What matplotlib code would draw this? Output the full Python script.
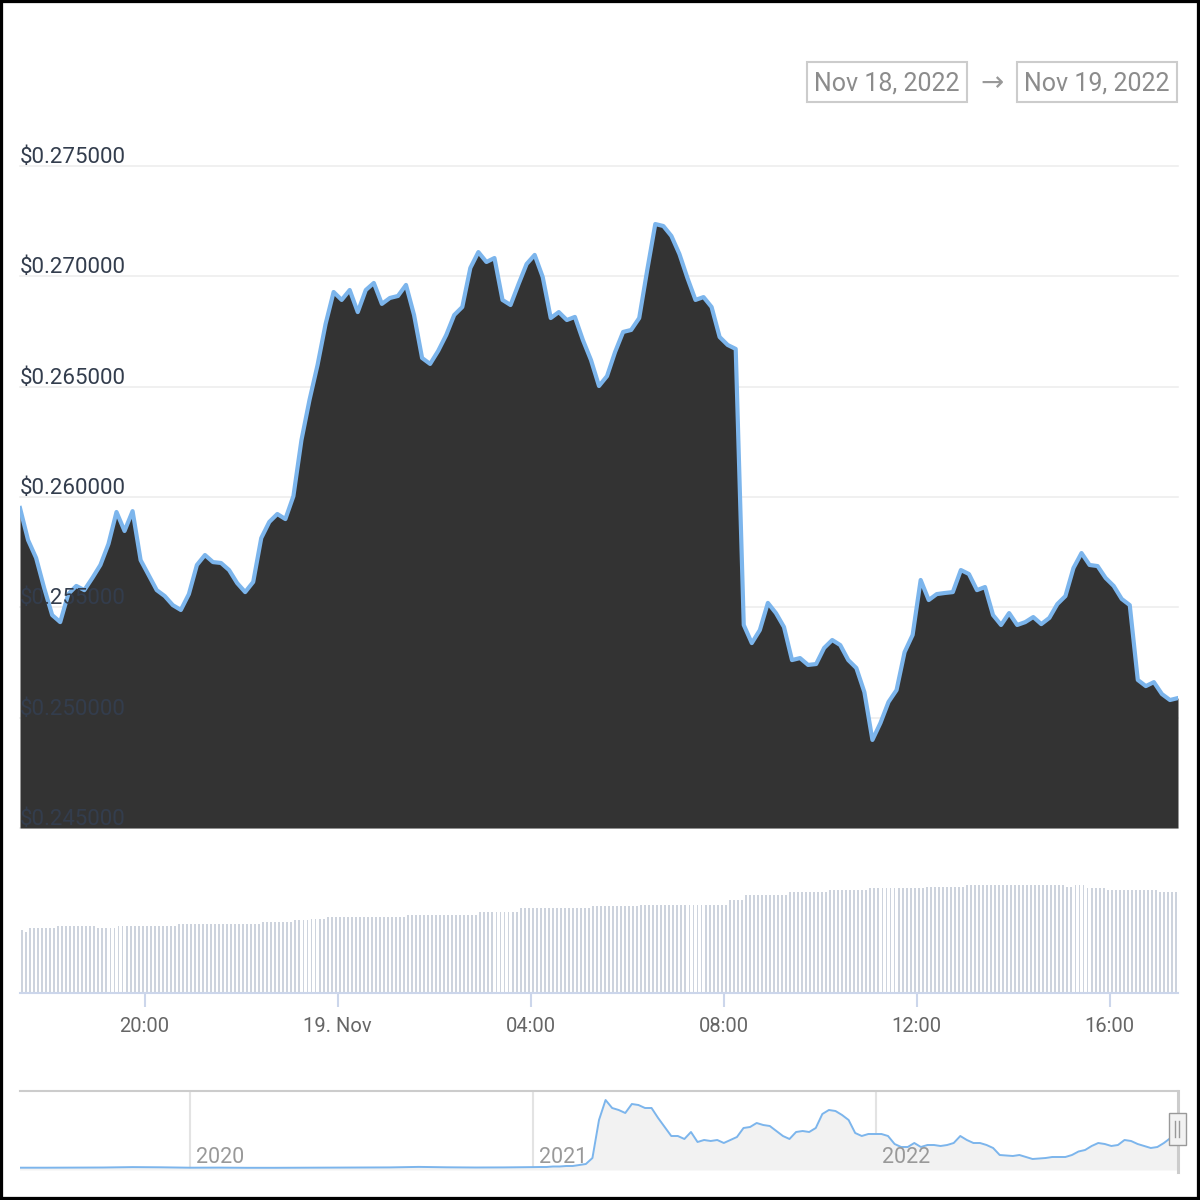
import numpy as np
import pandas as pd
import matplotlib
matplotlib.use('Agg')
import matplotlib.pyplot as plt
from matplotlib.patches import Rectangle

plt.rcParams['font.family'] = ['Roboto', 'DejaVu Sans']

# price, 10 minute steps from Nov 18 17:25
price = [0.25950, 0.25805, 0.25724, 0.25588, 0.25465, 0.25433, 0.25560, 0.25597, 0.25578, 0.25633,
         0.25692, 0.25787, 0.25932, 0.25846, 0.25936, 0.25714, 0.25646, 0.25578, 0.25551, 0.25510,
         0.25488, 0.25560, 0.25692, 0.25737, 0.25705, 0.25701, 0.25669, 0.25610, 0.25569, 0.25615,
         0.25814, 0.25887, 0.25923, 0.25900, 0.26004, 0.26258, 0.26440, 0.26598, 0.26784, 0.26929,
         0.26893, 0.26938, 0.26838, 0.26938, 0.26970, 0.26875, 0.26902, 0.26911, 0.26961, 0.26825,
         0.26630, 0.26603, 0.26662, 0.26734, 0.26825, 0.26861, 0.27038, 0.27110, 0.27065, 0.27083,
         0.26893, 0.26870, 0.26965, 0.27056, 0.27097, 0.26997, 0.26811, 0.26838, 0.26802, 0.26816,
         0.26711, 0.26621, 0.26503, 0.26548, 0.26657, 0.26748, 0.26757, 0.26811, 0.27029, 0.27237,
         0.27228, 0.27183, 0.27101, 0.26992, 0.26893, 0.26906, 0.26861, 0.26725, 0.26689, 0.26671,
         0.25420, 0.25338, 0.25397, 0.25520, 0.25474, 0.25411, 0.25261, 0.25270, 0.25239, 0.25243,
         0.25316, 0.25352, 0.25329, 0.25261, 0.25225, 0.25116, 0.24899, 0.24976, 0.25071, 0.25125,
         0.25297, 0.25375, 0.25624, 0.25533, 0.25560, 0.25565, 0.25569, 0.25669, 0.25651, 0.25578,
         0.25592, 0.25465, 0.25420, 0.25474, 0.25420, 0.25433, 0.25456, 0.25424, 0.25452, 0.25515,
         0.25551, 0.25678, 0.25746, 0.25692, 0.25687, 0.25633, 0.25597, 0.25538, 0.25510, 0.25171,
         0.25143, 0.25161, 0.25107, 0.25080, 0.25089]
price_ticks = [0.245, 0.250, 0.255, 0.260, 0.265, 0.270, 0.275]

# volume bars (5 min), given as plateaus: level and how many bars
vol_levels = [63, 61, 65, 67, 65, 67, 69, 71, 73, 74, 76, 78, 81, 85, 87, 88, 93, 98, 101, 103,
              105, 106, 108, 106, 108, 105, 103, 101]
vol_counts = [1, 1, 7, 10, 5, 15, 21, 8, 4, 4, 20, 18, 10, 18, 12, 22, 4, 11, 10, 10,
              14, 10, 25, 2, 3, 5, 13, 5]

tick_times = ['2022-11-18 20:00', '2022-11-19 00:00', '2022-11-19 04:00',
              '2022-11-19 08:00', '2022-11-19 12:00', '2022-11-19 16:00']
tick_labels = ['20:00', '19. Nov', '04:00', '08:00', '12:00', '16:00']

# navigator: monthly until 2021, weekly after
nav_a = [0.008, 0.008, 0.009, 0.010, 0.014, 0.012, 0.008, 0.009, 0.007, 0.007,
         0.008, 0.009, 0.010, 0.011, 0.016, 0.012, 0.010, 0.011, 0.014]
nav_b = [0.015, 0.015, 0.020, 0.020, 0.025, 0.025, 0.035, 0.045, 0.105, 0.485,
         0.685, 0.605, 0.585, 0.555, 0.645, 0.635, 0.605, 0.605, 0.505, 0.415,
         0.325, 0.325, 0.295, 0.365, 0.265, 0.285, 0.275, 0.285, 0.255, 0.285,
         0.315, 0.405, 0.415, 0.455, 0.435, 0.425, 0.375, 0.325, 0.295, 0.365,
         0.375, 0.365, 0.405, 0.545, 0.585, 0.575, 0.535, 0.485, 0.355, 0.325,
         0.345, 0.345, 0.345, 0.325, 0.245, 0.215, 0.215, 0.255, 0.215, 0.235,
         0.235, 0.225, 0.235, 0.255, 0.325, 0.285, 0.255, 0.255, 0.235, 0.205,
         0.135, 0.130, 0.125, 0.135, 0.115, 0.095, 0.100, 0.105, 0.115, 0.115,
         0.115, 0.135, 0.170, 0.185, 0.225, 0.255, 0.245, 0.225, 0.235, 0.285,
         0.275, 0.245, 0.225, 0.205, 0.215, 0.255, 0.305, 0.270]
nav_years = ['2020', '2021', '2022']

W = 1200.0
def fy(px):
    return 1 - px / W

fig = plt.figure(figsize=(12, 12), dpi=100)

# main price panel
times = pd.date_range('2022-11-18 17:25', periods=len(price), freq='10min')
ax = fig.add_axes([20 / W, fy(828), 1158 / W, (828 - 166) / W])
for v in price_ticks:
    ax.axhline(v, color='#eeeeee', lw=1.2, zorder=1, clip_on=False)
ax.fill_between(times, price, 0.245, color='#333333', lw=0, zorder=2)
ax.plot(times, price, color='#7cb5ec', lw=3.0, zorder=3, solid_joinstyle='round')
for v in price_ticks:
    ax.annotate('$%.6f' % v, xy=(0, v), xycoords=('axes fraction', 'data'),
                xytext=(0, 3), textcoords='offset pixels', ha='left', va='baseline',
                fontsize=16, color='#333d4d', zorder=4, annotation_clip=False)
ax.set_xlim(times[0], times[-1])
ax.set_ylim(0.245, 0.275)
ax.axis('off')

# volume panel
volume = np.repeat(vol_levels, vol_counts)
vol_times = pd.date_range('2022-11-18 17:27:30', periods=len(volume), freq='5min')
vax = fig.add_axes([20 / W, fy(993), 1158 / W, 123 / W])
vax.bar(vol_times, volume, width=2.4 / 1440, color='#cdd3dd', lw=0)
vax.set_xlim(times[0], times[-1])
vax.set_ylim(0, 123)
for s in ['top', 'left', 'right']:
    vax.spines[s].set_visible(False)
vax.spines['bottom'].set_color('#ccd6eb')
vax.spines['bottom'].set_linewidth(1.5)
vax.set_yticks([])
vax.set_xticks(pd.to_datetime(tick_times))
vax.set_xticklabels(tick_labels)
vax.tick_params(axis='x', length=10, width=1.5, color='#ccd6eb', labelcolor='#666666',
                labelsize=14.5, pad=7)

# navigator
nav_dates = pd.date_range('2019-07-01', '2021-01-01', freq='MS').append(
    pd.date_range('2021-01-08', periods=len(nav_b), freq='7D'))
nav = nav_a + nav_b
nax = fig.add_axes([20 / W, fy(1170), 1158 / W, 79 / W])
nax.fill_between(nav_dates, nav, -0.015, color='#f2f2f2', lw=0)
nax.plot(nav_dates, nav, color='#7cb5ec', lw=1.4)
for y in nav_years:
    d = pd.Timestamp(y + '-01-01')
    nax.axvline(d, color='#e3e3e3', lw=1.5, zorder=0)
    nax.annotate(y, xy=(d, 0), xycoords=('data', 'axes fraction'), xytext=(6, 7),
                 textcoords='offset pixels', ha='left', va='baseline', fontsize=15.5,
                 color='#999999')
nax.set_xlim(pd.Timestamp('2019-07-04'), pd.Timestamp('2022-11-19'))
nax.set_ylim(-0.015, 0.775)
for s in ['bottom', 'left', 'right']:
    nax.spines[s].set_visible(False)
nax.spines['top'].set_color('#cccccc')
nax.spines['top'].set_linewidth(1.5)
nax.set_xticks([])
nax.set_yticks([])
nax.plot([1, 1], [-0.03, 1], transform=nax.transAxes, color='#cccccc', lw=2.2, clip_on=False)

# navigator handle
fig.add_artist(Rectangle((1169 / W, fy(1145)), 17 / W, 32 / W, transform=fig.transFigure,
                         fc='#f2f2f2', ec='#999999', lw=1))
for hx in [1175, 1179]:
    fig.add_artist(plt.Line2D([hx / W, hx / W], [fy(1137), fy(1121)], transform=fig.transFigure,
                              color='#999999', lw=1))

# date range boxes
for x0, label in [(807, 'Nov 18, 2022'), (1017, 'Nov 19, 2022')]:
    fig.add_artist(Rectangle((x0 / W, fy(102)), 160 / W, 40 / W, transform=fig.transFigure,
                             fill=False, ec='#cccccc', lw=1.5))
    fig.text((x0 + 80) / W, fy(83), label, ha='center', va='center', fontsize=18, color='#8c8c8c')
fig.text(992 / W, fy(84), '→', ha='center', va='center', fontsize=20, color='#999999',
         family=['Roboto', 'DejaVu Sans'])

# outer frame
fig.add_artist(Rectangle((0, 0), 1, 1, transform=fig.transFigure, fill=False, ec='black', lw=4.5))

fig.savefig('out.png', dpi=100)
